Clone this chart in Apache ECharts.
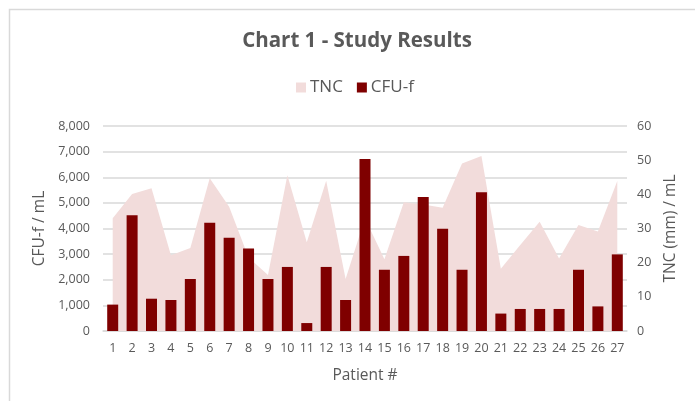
<!DOCTYPE html>
<html>
<head>
<meta charset="utf-8">
<script src="https://cdn.jsdelivr.net/npm/echarts@6/dist/echarts.min.js"></script>
<style>
    html, body { margin: 0; padding: 0; background: #fff; }
    #chart { width: 695px; height: 401px; }
</style>
</head>
<body>
<div id="chart"></div>
<script>
var patients = ['1', '2', '3', '4', '5', '6', '7', '8', '9', '10', '11', '12', '13', '14',
    '15', '16', '17', '18', '19', '20', '21', '22', '23', '24', '25', '26', '27'];
// CFU-f / mL (left axis, bars)
var cfuValues = [1030, 4520, 1260, 1210, 2030, 4220, 3640, 3220, 2030, 2500, 310, 2500, 1210, 6710,
    2390, 2930, 5230, 3990, 2390, 5410, 680, 860, 860, 860, 2390, 960, 2990];
// TNC (mm) / mL (right axis, area)
var tncValues = [33.0, 40.1, 41.8, 22.2, 24.3, 44.7, 36.4, 21.5, 16.4, 45.6, 26.0, 44.0, 15.2, 33.0,
    21.0, 37.7, 37.0, 36.1, 49.0, 51.2, 18.2, 25.2, 32.0, 21.2, 31.0, 29.1, 43.9];
var leftTicks = { min: 0, max: 8000, interval: 1000 };
var rightTicks = { min: 0, max: 60, interval: 10 };

(function () {
    var chartDom = document.getElementById('chart');
    var myChart = echarts.init(chartDom);
    var textColor = '#595959';
    var font = '"Open Sans", "DejaVu Sans", sans-serif';
    var option;

    option = {
        backgroundColor: '#fff',
        animation: false,
        textStyle: { fontFamily: font },
        // chart border (top and left edges visible)
        graphic: [{
            type: 'polyline',
            shape: { points: [[9.5, 401], [9.5, 9.5], [695, 9.5]] },
            style: { stroke: '#d9d9d9', lineWidth: 1.5, fill: null }
        }],
        title: {
            text: 'Chart 1 - Study Results',
            left: 352,
            textAlign: 'center',
            top: 26,
            textStyle: { fontFamily: font, fontSize: 20.5, fontWeight: 'bold', color: textColor }
        },
        legend: {
            left: 296,
            top: 79,
            padding: 0,
            itemWidth: 10,
            itemHeight: 10,
            itemGap: 14,
            textStyle: { fontFamily: font, fontSize: 17, color: textColor, padding: [0, 0, 0, -1] },
            data: [{ name: 'TNC', icon: 'rect' }, { name: 'CFU-f', icon: 'rect' }]
        },
        grid: {
            left: 103,
            right: 68,
            top: 126,
            bottom: 70
        },
        xAxis: {
            type: 'category',
            data: patients,
            name: 'Patient #',
            nameLocation: 'middle',
            nameGap: 37,
            nameTextStyle: { fontFamily: font, fontSize: 15.5, color: textColor },
            axisLine: { lineStyle: { color: '#d9d9d9', width: 1.5 } },
            axisTick: { show: false },
            axisLabel: { color: textColor, fontSize: 12.5, margin: 11, interval: 0 }
        },
        yAxis: [{
            type: 'value',
            min: leftTicks.min,
            max: leftTicks.max,
            interval: leftTicks.interval,
            name: 'CFU-f / mL',
            nameLocation: 'middle',
            nameGap: 47,
            nameTextStyle: { fontFamily: font, fontSize: 15.5, color: textColor },
            axisLine: { show: false },
            axisTick: { show: false },
            axisLabel: {
                color: textColor,
                fontSize: 12.5,
                margin: 13,
                formatter: function (v) { return v.toLocaleString('en-US'); }
            },
            splitLine: { lineStyle: { color: '#d9d9d9', width: 1.5 } }
        }, {
            type: 'value',
            position: 'right',
            min: rightTicks.min,
            max: rightTicks.max,
            interval: rightTicks.interval,
            name: 'TNC (mm) / mL',
            nameLocation: 'middle',
            nameGap: 35,
            nameRotate: 90,
            nameTextStyle: { fontFamily: font, fontSize: 15.5, color: textColor },
            axisLine: { show: false },
            axisTick: { show: false },
            axisLabel: { color: textColor, fontSize: 12.5, margin: 10 },
            splitLine: { show: false }
        }],
        series: [{
            name: 'TNC',
            type: 'line',
            yAxisIndex: 1,
            z: 1,
            data: tncValues,
            symbol: 'none',
            lineStyle: { width: 0 },
            itemStyle: { color: '#f2dcdb' },
            areaStyle: { color: '#f2dcdb', opacity: 1 }
        }, {
            name: 'CFU-f',
            type: 'bar',
            yAxisIndex: 0,
            z: 3,
            data: cfuValues,
            barWidth: 11,
            itemStyle: { color: '#7f0000' }
        }]
    };

    myChart.setOption(option);
    window.addEventListener('resize', function () {
        myChart.resize();
    });
})();
</script>
</body>
</html>
